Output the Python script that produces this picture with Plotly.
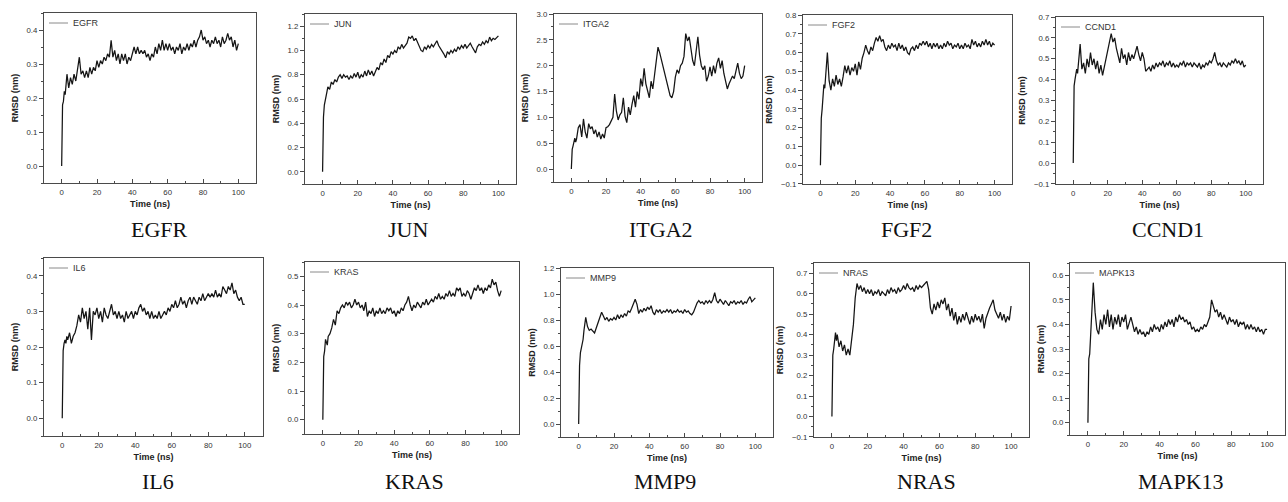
import plotly.graph_objects as go

# ---------------- data ----------------
time_ns = [0, 0.2, 0.5, 1, 1.5, 2, 2.5,
           3, 4, 5, 6, 7, 8, 9, 10,
           11, 12, 13, 14, 15, 16, 17, 18, 19, 20,
           21, 22, 23, 24, 25, 26, 27, 28, 29, 30,
           31, 32, 33, 34, 35, 36, 37, 38, 39, 40,
           41, 42, 43, 44, 45, 46, 47, 48, 49, 50,
           51, 52, 53, 54, 55, 56, 57, 58, 59, 60,
           61, 62, 63, 64, 65, 66, 67, 68, 69, 70,
           71, 72, 73, 74, 75, 76, 77, 78, 79, 80,
           81, 82, 83, 84, 85, 86, 87, 88, 89, 90,
           91, 92, 93, 94, 95, 96, 97, 98, 99, 100]

egfr = [0.00, 0.15, 0.18, 0.19, 0.22, 0.21, 0.24,
        0.27, 0.23, 0.26, 0.24, 0.27, 0.25, 0.28, 0.32,
        0.27, 0.28, 0.26, 0.28, 0.26, 0.29, 0.27, 0.29, 0.28, 0.31,
        0.29, 0.31, 0.30, 0.32, 0.31, 0.33, 0.32, 0.37, 0.32, 0.34,
        0.31, 0.33, 0.30, 0.33, 0.31, 0.33, 0.30, 0.32, 0.31, 0.33,
        0.35, 0.33, 0.35, 0.33, 0.34, 0.33, 0.34, 0.32, 0.33, 0.31,
        0.33, 0.32, 0.35, 0.33, 0.36, 0.34, 0.37, 0.34, 0.36, 0.34,
        0.36, 0.34, 0.35, 0.33, 0.35, 0.34, 0.36, 0.33, 0.35, 0.34,
        0.36, 0.34, 0.36, 0.35, 0.37, 0.35, 0.37, 0.38, 0.40, 0.37,
        0.38, 0.36, 0.37, 0.35, 0.37, 0.36, 0.38, 0.36, 0.37, 0.35,
        0.38, 0.36, 0.37, 0.39, 0.37, 0.38, 0.35, 0.37, 0.34, 0.36]

jun = [0.00, 0.35, 0.45, 0.55, 0.60, 0.63, 0.66,
       0.70, 0.68, 0.74, 0.72, 0.76, 0.74, 0.78, 0.80,
       0.77, 0.80, 0.78, 0.79, 0.76, 0.79, 0.77, 0.81, 0.78, 0.82,
       0.77, 0.80, 0.78, 0.83, 0.79, 0.84, 0.80, 0.83, 0.79, 0.82,
       0.86, 0.84, 0.90, 0.88, 0.93, 0.90, 0.96, 0.94, 0.99, 0.97,
       1.00, 0.98, 1.03, 1.01, 1.05, 1.02, 1.04, 1.06, 1.11, 1.10,
       1.12, 1.08, 1.10, 1.07, 1.04, 1.00, 0.99, 1.03, 1.01, 1.04,
       1.02, 1.05, 1.03, 1.06, 1.08, 1.04, 1.02, 0.99, 0.97, 0.94,
       0.99, 0.97, 1.00, 0.98, 1.01, 0.99, 1.03, 1.01, 1.04, 1.02,
       1.05, 1.02, 1.04, 1.06, 1.03, 1.00, 0.98, 1.03, 1.05, 1.04,
       1.07, 1.05, 1.08, 1.06, 1.11, 1.08, 1.10, 1.09, 1.11, 1.12]

itga2 = [0.00, 0.25, 0.38, 0.45, 0.55, 0.60, 0.52,
         0.58, 0.80, 0.86, 0.62, 0.97, 0.72, 0.60, 0.88,
         0.78, 0.82, 0.68, 0.76, 0.62, 0.72, 0.58, 0.68, 0.60, 0.80,
         0.82, 0.86, 0.92, 1.00, 1.45, 1.12, 0.95, 1.05, 1.10, 1.38,
         1.02, 0.90, 1.20, 1.05, 1.25, 1.42, 1.20, 1.50, 1.35, 1.75,
         1.60, 1.95, 1.65, 1.50, 1.38, 1.70, 1.55, 1.82, 2.10, 2.36,
         2.25, 2.10, 2.00, 1.85, 1.70, 1.55, 1.42, 1.38, 1.50, 1.78,
         1.92, 1.85, 2.00, 2.05, 2.18, 2.62, 2.48, 2.56, 2.30, 2.10,
         2.00, 2.25, 2.56, 2.20, 2.00, 1.92, 2.00, 1.70, 1.80, 1.98,
         1.80, 2.00, 1.85, 2.05, 2.15, 1.95, 2.10, 1.85, 1.68, 1.55,
         1.65, 1.72, 1.80, 1.75, 1.90, 2.05, 1.85, 1.75, 1.80, 2.00]

fgf2 = [0.00, 0.20, 0.25, 0.30, 0.40, 0.43, 0.41,
        0.48, 0.60, 0.45, 0.40, 0.46, 0.42, 0.48, 0.43,
        0.46, 0.42, 0.47, 0.53, 0.49, 0.53, 0.48, 0.52, 0.50, 0.54,
        0.48, 0.55, 0.51, 0.57, 0.60, 0.64, 0.61, 0.59, 0.63, 0.61,
        0.65, 0.68, 0.66, 0.69, 0.66, 0.67, 0.63, 0.61, 0.64, 0.62,
        0.65, 0.63, 0.64, 0.61, 0.65, 0.62, 0.64, 0.61, 0.63, 0.60,
        0.59, 0.62, 0.63, 0.61, 0.64, 0.62, 0.65, 0.64, 0.66, 0.64,
        0.66, 0.63, 0.65, 0.62, 0.65, 0.63, 0.65, 0.62, 0.64, 0.62,
        0.65, 0.63, 0.66, 0.64, 0.65, 0.62, 0.64, 0.63, 0.65, 0.62,
        0.64, 0.62, 0.65, 0.63, 0.64, 0.62, 0.67, 0.64, 0.66, 0.63,
        0.65, 0.63, 0.66, 0.64, 0.67, 0.64, 0.66, 0.63, 0.65, 0.64]

ccnd1 = [0.00, 0.30, 0.37, 0.40, 0.42, 0.45, 0.43,
         0.47, 0.57, 0.45, 0.48, 0.43, 0.50, 0.46, 0.53,
         0.47, 0.50, 0.45, 0.49, 0.43, 0.47, 0.42, 0.46, 0.50, 0.55,
         0.58, 0.62, 0.58, 0.60, 0.55, 0.52, 0.48, 0.55, 0.50, 0.52,
         0.47, 0.53, 0.49, 0.52, 0.50, 0.53, 0.56, 0.52, 0.49, 0.53,
         0.50, 0.44, 0.45, 0.46, 0.44, 0.47, 0.45, 0.48, 0.46, 0.48,
         0.47, 0.49, 0.46, 0.48, 0.47, 0.49, 0.46, 0.48, 0.46, 0.47,
         0.46, 0.48, 0.47, 0.49, 0.46, 0.48, 0.47, 0.48, 0.46, 0.48,
         0.47, 0.46, 0.48, 0.45, 0.47, 0.46, 0.48, 0.47, 0.49, 0.48,
         0.50, 0.53, 0.49, 0.47, 0.48, 0.46, 0.48, 0.47, 0.46, 0.48,
         0.47, 0.49, 0.48, 0.50, 0.48, 0.49, 0.47, 0.49, 0.46, 0.47]

il6 = [0.00, 0.17, 0.19, 0.21, 0.22, 0.21, 0.23,
       0.22, 0.24, 0.21, 0.23, 0.24, 0.26, 0.29, 0.27,
       0.31, 0.28, 0.30, 0.25, 0.31, 0.22, 0.30, 0.29, 0.31, 0.28,
       0.30, 0.27, 0.31, 0.29, 0.28, 0.30, 0.32, 0.29, 0.30, 0.28,
       0.30, 0.28, 0.29, 0.27, 0.30, 0.28, 0.29, 0.30, 0.28, 0.30,
       0.29, 0.31, 0.32, 0.30, 0.31, 0.29, 0.30, 0.28, 0.30, 0.28,
       0.29, 0.28, 0.30, 0.28, 0.29, 0.30, 0.29, 0.31, 0.30, 0.32,
       0.31, 0.33, 0.31, 0.32, 0.34, 0.32, 0.33, 0.31, 0.33, 0.34,
       0.32, 0.34, 0.33, 0.32, 0.34, 0.33, 0.35, 0.33, 0.34, 0.35,
       0.34, 0.35, 0.34, 0.36, 0.34, 0.35, 0.34, 0.37, 0.36, 0.35,
       0.37, 0.36, 0.38, 0.35, 0.36, 0.34, 0.33, 0.34, 0.32, 0.32]

kras = [0.00, 0.20, 0.22, 0.24, 0.28, 0.27, 0.26,
        0.29, 0.30, 0.32, 0.35, 0.33, 0.38, 0.37, 0.39,
        0.40, 0.39, 0.41, 0.40, 0.41, 0.39, 0.40, 0.42, 0.40, 0.41,
        0.39, 0.40, 0.38, 0.41, 0.36, 0.38, 0.37, 0.39, 0.36, 0.38,
        0.37, 0.39, 0.37, 0.38, 0.37, 0.39, 0.38, 0.39, 0.37, 0.38,
        0.36, 0.38, 0.37, 0.39, 0.38, 0.40, 0.41, 0.43, 0.40, 0.38,
        0.40, 0.39, 0.41, 0.40, 0.39, 0.41, 0.40, 0.42, 0.40, 0.41,
        0.42, 0.41, 0.43, 0.42, 0.44, 0.42, 0.43, 0.42, 0.44, 0.43,
        0.45, 0.43, 0.44, 0.43, 0.46, 0.45, 0.46, 0.43, 0.44, 0.43,
        0.45, 0.44, 0.42, 0.44, 0.46, 0.45, 0.47, 0.45, 0.46, 0.44,
        0.46, 0.45, 0.47, 0.46, 0.49, 0.47, 0.48, 0.45, 0.43, 0.45]

mmp9 = [0.00, 0.30, 0.45, 0.55, 0.58, 0.60, 0.65,
        0.72, 0.82, 0.75, 0.72, 0.73, 0.71, 0.70, 0.74,
        0.78, 0.82, 0.86, 0.83, 0.80, 0.82, 0.79, 0.81, 0.80, 0.82,
        0.80, 0.84, 0.81, 0.84, 0.82, 0.85, 0.83, 0.87, 0.86, 0.89,
        0.92, 0.96, 0.92, 0.85, 0.88, 0.86, 0.89, 0.87, 0.90, 0.88,
        0.91, 0.86, 0.84, 0.88, 0.86, 0.88, 0.85, 0.87, 0.86, 0.88,
        0.86, 0.88, 0.85, 0.87, 0.86, 0.88, 0.86, 0.87, 0.85, 0.88,
        0.86, 0.87, 0.85, 0.84, 0.86, 0.90, 0.93, 0.95, 0.93, 0.94,
        0.92, 0.95, 0.93, 0.95, 0.93, 0.96, 1.01, 0.95, 0.93, 0.96,
        0.94, 0.92, 0.95, 0.93, 0.91, 0.94, 0.93, 0.95, 0.92, 0.94,
        0.93, 0.95, 0.92, 0.94, 0.93, 0.96, 0.98, 0.94, 0.96, 0.97]

nras = [0.00, 0.20, 0.30, 0.33, 0.38, 0.41, 0.37,
        0.40, 0.34, 0.37, 0.32, 0.35, 0.30, 0.33, 0.30,
        0.38, 0.45, 0.58, 0.65, 0.62, 0.64, 0.61, 0.63, 0.60, 0.62,
        0.60, 0.62, 0.59, 0.61, 0.60, 0.62, 0.59, 0.61, 0.60, 0.59,
        0.62, 0.60, 0.63, 0.61, 0.62, 0.60, 0.63, 0.61, 0.62, 0.64,
        0.62, 0.65, 0.63, 0.62, 0.63, 0.61, 0.64, 0.62, 0.64, 0.63,
        0.64, 0.65, 0.66, 0.62, 0.53, 0.50, 0.55, 0.52, 0.56, 0.53,
        0.57, 0.55, 0.58, 0.52, 0.55, 0.49, 0.53, 0.47, 0.51, 0.45,
        0.49, 0.46, 0.50, 0.47, 0.51, 0.48, 0.45, 0.49, 0.46, 0.50,
        0.47, 0.49, 0.46, 0.50, 0.43, 0.48, 0.51, 0.53, 0.55, 0.57,
        0.52, 0.50, 0.48, 0.51, 0.47, 0.50, 0.46, 0.49, 0.47, 0.54]

mapk13 = [0.00, 0.20, 0.26, 0.28, 0.35, 0.45, 0.52,
          0.57, 0.45, 0.38, 0.36, 0.42, 0.38, 0.44, 0.40,
          0.46, 0.39, 0.44, 0.38, 0.43, 0.40, 0.44, 0.39, 0.43, 0.41,
          0.44, 0.38, 0.41, 0.43, 0.40, 0.37, 0.39, 0.36, 0.38, 0.36,
          0.37, 0.35, 0.37, 0.36, 0.39, 0.37, 0.40, 0.38, 0.39, 0.37,
          0.40, 0.38, 0.41, 0.39, 0.42, 0.40, 0.42, 0.39, 0.43, 0.41,
          0.44, 0.42, 0.43, 0.41, 0.42, 0.40, 0.41, 0.38, 0.39, 0.37,
          0.38, 0.37, 0.39, 0.38, 0.40, 0.39, 0.41, 0.43, 0.50, 0.47,
          0.45, 0.46, 0.43, 0.45, 0.42, 0.44, 0.42, 0.40, 0.43, 0.41,
          0.42, 0.40, 0.42, 0.39, 0.41, 0.40, 0.41, 0.38, 0.40, 0.38,
          0.40, 0.38, 0.39, 0.37, 0.39, 0.37, 0.38, 0.36, 0.38, 0.38]

names = ["EGFR", "JUN", "ITGA2", "FGF2", "CCND1",
         "IL6", "KRAS", "MMP9", "NRAS", "MAPK13"]
series = [egfr, jun, itga2, fgf2, ccnd1, il6, kras, mmp9, nras, mapk13]
x_ticks = [0, 20, 40, 60, 80, 100]

# ---------------- layout / styling ----------------
W, H = 1288, 502
# plot boxes in pixels: left, right, top, bottom
boxes = [(44, 256, 13, 183), (305, 516, 14, 184), (554, 762, 14, 182),
         (803, 1012, 15, 184), (1056, 1263, 17, 184),
         (44, 263, 258, 436), (305, 519, 262, 434), (561, 773, 268, 437),
         (814, 1029, 263, 437), (1070, 1285, 263, 435)]
y_ranges = [(-0.05, 0.45), (-0.1, 1.3), (-0.25, 3.0005), (-0.1001, 0.8001), (-0.1001, 0.7001),
            (-0.05, 0.45), (-0.05, 0.55), (-0.1, 1.2001), (-0.1001, 0.75), (-0.05, 0.65)]
y_dticks = [0.1, 0.2, 0.5, 0.1, 0.1, 0.1, 0.1, 0.2, 0.1, 0.1]
label_pos = [(159, 229), (408, 229), (661, 229), (907, 229), (1168, 229),
             (158, 481), (414, 481), (665, 481), (926, 481), (1181, 481)]

SANS = "Liberation Sans, Arial, sans-serif"
SERIF = "Liberation Serif, Times New Roman, serif"
AXC = "#4a4a4a"

fig = go.Figure()
layout = dict(width=W, height=H, margin=dict(l=0, r=0, t=0, b=0),
              paper_bgcolor="white", plot_bgcolor="white",
              template="none", showlegend=False)
shapes, annotations = [], []

for i, (name, vals) in enumerate(zip(names, series)):
    assert len(vals) == len(time_ns), name
    n = i + 1
    sfx = "" if n == 1 else str(n)
    l, r, t, b = boxes[i]
    fig.add_trace(go.Scatter(x=time_ns, y=vals, name=name, mode="lines",
                             xaxis="x" + sfx, yaxis="y" + sfx,
                             line=dict(color="#151515", width=1.25)))
    layout["xaxis" + sfx] = dict(
        domain=[l / W, r / W], anchor="y" + sfx, range=[-10, 110],
        tickvals=x_ticks, ticks="inside", ticklen=4, tickwidth=1, tickcolor=AXC,
        minor=dict(dtick=10, tick0=0, ticks="inside", ticklen=2, tickwidth=1,
                   tickcolor=AXC, showgrid=False),
        showline=True, linecolor=AXC, linewidth=1.2, mirror=True,
        showgrid=False, zeroline=False, ticklabelstandoff=2,
        tickfont=dict(family=SANS, size=7.8, color="#333"),
        title=dict(text="<b>Time (ns)</b>", standoff=4,
                   font=dict(family=SANS, size=9, color="#222")))
    layout["yaxis" + sfx] = dict(
        domain=[1 - b / H, 1 - t / H], anchor="x" + sfx, range=list(y_ranges[i]),
        tick0=0, dtick=y_dticks[i], tickformat=".1f",
        ticks="outside", ticklen=4, tickwidth=1, tickcolor=AXC,
        minor=dict(dtick=y_dticks[i] / 2, tick0=0, ticks="outside", ticklen=2,
                   tickwidth=1, tickcolor=AXC, showgrid=False),
        showline=True, linecolor=AXC, linewidth=1.2, mirror=True,
        showgrid=False, zeroline=False,
        tickfont=dict(family=SANS, size=7.8, color="#333"),
        title=dict(text="<b>RMSD (nm)</b>", standoff=6,
                   font=dict(family=SANS, size=9, color="#222")))
    # in-plot legend (short line + name)
    ly = t + 10
    shapes.append(dict(type="line", xref="paper", yref="paper",
                       x0=(l + 5) / W, x1=(l + 24) / W, y0=1 - ly / H, y1=1 - ly / H,
                       line=dict(color="#8a8a8a", width=1)))
    annotations.append(dict(text=name, xref="paper", yref="paper",
                            x=(l + 27) / W, y=1 - ly / H, xanchor="left", yanchor="middle",
                            showarrow=False, font=dict(family=SANS, size=9, color="#333")))
    # big serif caption below the panel
    cx, cy = label_pos[i]
    annotations.append(dict(text=name, xref="paper", yref="paper",
                            x=cx / W, y=1 - cy / H, xanchor="center", yanchor="middle",
                            showarrow=False, font=dict(family=SERIF, size=22, color="#111")))

layout["shapes"] = shapes
layout["annotations"] = annotations
fig.update_layout(**layout)
fig.write_html("out.html")
